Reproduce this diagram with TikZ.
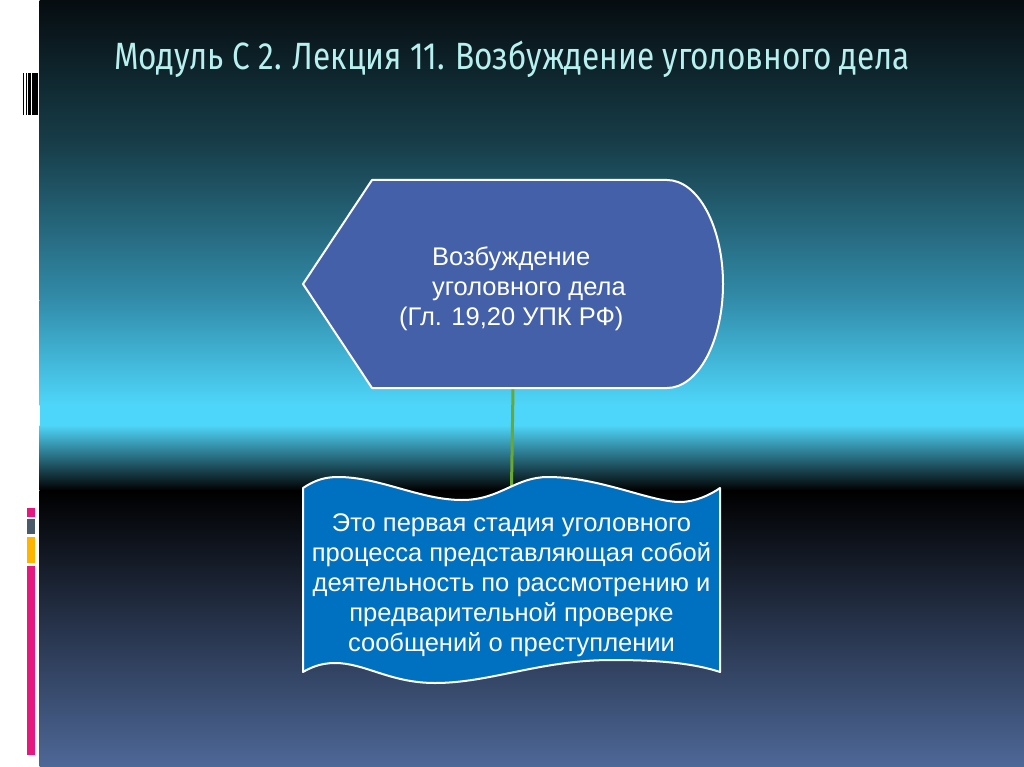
\documentclass[tikz,border=0pt]{standalone}
\usepackage{fontspec}
\setmainfont{Liberation Sans}
\newfontfamily\titlefont[FakeStretch=0.83]{Fira Sans}
\usetikzlibrary{positioning,calc}

\pgfdeclarelayer{back}
\pgfdeclarelayer{shapes}
\pgfsetlayers{back,shapes,main}

\definecolor{bgA}{RGB}{6,12,16}
\definecolor{bgB}{RGB}{24,64,76}
\definecolor{bgC}{RGB}{50,140,170}
\definecolor{bgD}{RGB}{78,214,250}
\definecolor{bgE}{RGB}{78,104,152}
\definecolor{titlecyan}{RGB}{184,240,240}
\definecolor{vozbblue}{RGB}{68,96,168}
\definecolor{etapblue}{RGB}{0,112,192}
\definecolor{linkgreen}{RGB}{106,168,50}
\definecolor{barpink}{RGB}{230,23,126}
\definecolor{bargray}{RGB}{74,90,106}
\definecolor{baryellow}{RGB}{255,180,0}

\begin{document}
\begin{tikzpicture}[x=1pt,y=-1pt,
  frame/.style={minimum width=#1, inner sep=0pt, outer sep=0pt},
  outline/.style={draw=white, line width=2pt, line join=round},
  boxtext/.style={text=white, font=\fontsize{25.5}{30}\selectfont, inner sep=0pt},
  link/.style={draw=linkgreen, line width=3pt}]

  \useasboundingbox (0,0) rectangle (1024,767);

  % slide background
  \begin{pgfonlayer}{back}
    \fill[white] (0,0) rectangle (40,767);
    \shade[top color=bgA, bottom color=bgB] (39.5,-1) rectangle (1024,150.5);
    \shade[top color=bgB, bottom color=bgC] (39.5,150) rectangle (1024,300.5);
    \shade[top color=bgC, bottom color=bgD] (39.5,300) rectangle (1024,405.5);
    \fill[bgD] (39.5,405) rectangle (1024,425.5);
    \shade[top color=bgD, bottom color=black] (39.5,425) rectangle (1024,490.5);
    \shade[top color=black, bottom color=bgE] (39.5,490) rectangle (1024,768);
  \end{pgfonlayer}

  % marks in the white strip
  \foreach \a/\b in {22.7/23.7, 25.7/26.7, 27.7/30.7, 32/37.7}
    \fill[black] (\a,73) rectangle (\b,115);
  \fill[barpink]   (27,508) rectangle (35,517);
  \fill[bargray]   (27,519) rectangle (35,534);
  \fill[baryellow] (27,537) rectangle (35,563);
  \fill[barpink]   (27,566) rectangle (35,755);

  \node[anchor=base west, inner sep=0pt, text=titlecyan,
        font=\titlefont\fontsize{38}{42}\selectfont] (title) at (114,70)
    {Модуль С 2. Лекция 11. Возбуждение уголовного дела};

  \node[frame=420pt, minimum height=208pt] (vozb) at (513,284) {};
  \node[frame=417pt, minimum height=184pt] (etap) at (511.5,580) {};

  \begin{pgfonlayer}{shapes}
    \draw[outline, fill=vozbblue] (vozb.west)
      -- ($(vozb.north west)+(69,0)$)
      -- ($(vozb.north east)+(-56,0)$)
      arc[start angle=-90, end angle=90, x radius=56, y radius=104]
      -- ($(vozb.south west)+(69,0)$) -- cycle;

    \draw[outline, fill=etapblue] (etap.north west)
      .. controls +(12,-8) and +(-13,0) .. ++(35,-11)
      .. controls +(42,0) and +(-42,0) .. ++(124,23)
      .. controls +(38,0) and +(-33,0) .. ++(86,-23)
      .. controls +(52,0) and +(-30,0) .. ++(132,25)
      .. controls +(15,0) and +(-10,7) .. (etap.north east)
      -- (etap.south east)
      .. controls +(-30,-10) and +(38,0) .. ++(-108,-12)
      .. controls +(-72,0) and +(55,0) .. ++(-177,23)
      .. controls +(-45,0) and +(30,0) .. ++(-100,-20)
      .. controls +(-15,0) and +(7,-4) .. (etap.south west)
      -- cycle;
  \end{pgfonlayer}

  \node[boxtext, align=left, anchor=west] (vozbtxt) at (399,288.5)
    {\hspace*{33pt}Возбуждение\\
     \hspace*{33pt}уголовного дела\\
     (Гл. 19,20 УПК РФ)};

  \node[boxtext, align=center] (etaptxt) at (511.5,585)
    {Это первая стадия уголовного\\
     процесса представляющая собой\\
     деятельность по рассмотрению и\\
     предварительной проверке\\
     сообщений о преступлении};

  \begin{pgfonlayer}{back}
    \draw[link] (vozb.south) -- (etap.north);
  \end{pgfonlayer}

\end{tikzpicture}
\end{document}
